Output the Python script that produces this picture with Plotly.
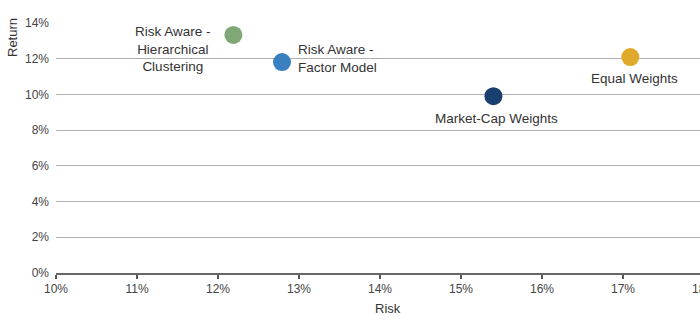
import plotly.graph_objects as go

names = ["Risk Aware - Hierarchical Clustering", "Risk Aware - Factor Model",
         "Market-Cap Weights", "Equal Weights"]
label_texts = ["Risk Aware -<br>Hierarchical<br>Clustering", "Risk Aware -<br>Factor Model",
               "Market-Cap Weights", "Equal Weights"]
risk = [12.19, 12.79, 15.40, 17.09]
ret = [13.33, 11.81, 9.90, 12.09]
colors = ["#80a877", "#3a7fbf", "#183f6d", "#e1a92b"]
x_ticks = [10, 11, 12, 13, 14, 15, 16, 17, 18]
y_ticks = [0, 2, 4, 6, 8, 10, 12, 14]

# label placement (anchor, shifts in px)
label_pos = [
    dict(xanchor="right", yanchor="middle", xshift=-20, yshift=-14, align="center"),
    dict(xanchor="left", yanchor="middle", xshift=14, yshift=4, align="left"),
    dict(xanchor="center", yanchor="middle", xshift=3, yshift=-22, align="center"),
    dict(xanchor="center", yanchor="middle", xshift=4, yshift=-21, align="center"),
]

FONT = "Liberation Sans, Arial, sans-serif"
fig = go.Figure()
for n, xr, yr, c in zip(names, risk, ret, colors):
    fig.add_trace(go.Scatter(x=[xr], y=[yr], mode="markers", name=n,
                             marker=dict(size=18, color=c, line=dict(width=0)),
                             showlegend=False, cliponaxis=False))

annotations = []
for t, xr, yr, p in zip(label_texts, risk, ret, label_pos):
    annotations.append(dict(x=xr, y=yr, xref="x", yref="y", text=t, showarrow=False,
                            font=dict(size=13.5, color="#333333", family=FONT), **p))

# axis titles
annotations.append(dict(x=0, y=0.94, xref="paper", yref="paper", text="Return",
                        textangle=-90, showarrow=False, xanchor="center", yanchor="middle",
                        xshift=-44, font=dict(size=13, color="#333333", family=FONT)))
annotations.append(dict(x=14.1, y=0, xref="x", yref="paper", text="Risk",
                        showarrow=False, xanchor="center", yanchor="middle",
                        yshift=-35, font=dict(size=13, color="#333333", family=FONT)))
# clipped last tick label at right edge
x_min, x_max = 10, 17.95
annotations.append(dict(x=(x_ticks[-1] - x_min) / (x_max - x_min), y=0, xref="paper", yref="paper",
                        text=f"{x_ticks[-1]}%", showarrow=False, xanchor="center", yanchor="middle",
                        yshift=-16, font=dict(size=12, color="#444444", family=FONT)))

fig.update_layout(
    width=700, height=329,
    margin=dict(l=56, r=0, t=23, b=56),
    plot_bgcolor="white", paper_bgcolor="white",
    font=dict(family=FONT, size=12, color="#444444"),
    annotations=annotations,
    xaxis=dict(range=[x_min, x_max], tickvals=x_ticks, ticktext=[f"{v}%" for v in x_ticks],
               showgrid=False, zeroline=False, showline=True, linecolor="#666666", linewidth=2,
               ticks="outside", ticklen=4, tickwidth=2, tickcolor="#555555",
               tickfont=dict(size=12, color="#444444")),
    yaxis=dict(range=[0, 14], tickvals=y_ticks, ticktext=[f"{v}%" for v in y_ticks],
               showgrid=True, gridcolor="#b0b0b0", gridwidth=1.2, zeroline=False,
               showline=False, ticks="", ticklabelstandoff=6,
               tickfont=dict(size=12, color="#444444")),
)

fig.write_html("out.html")
